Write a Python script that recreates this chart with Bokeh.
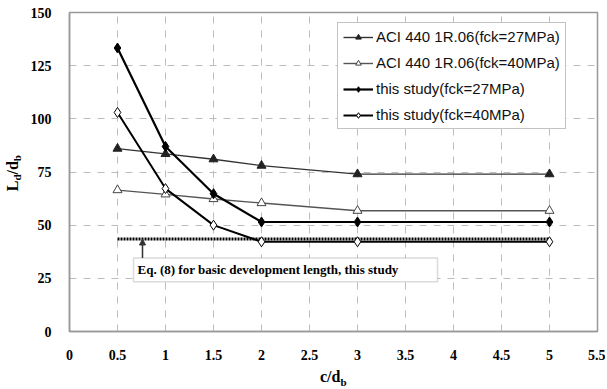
from bokeh.plotting import figure
from bokeh.layouts import row, column
from bokeh.models import (FixedTicker, Legend, LegendItem, Label, BoxAnnotation,
                          Arrow, NormalHead, Div)
from bokeh.embed import file_html
from bokeh.resources import INLINE

# ---- data ----
c_db = [0.5, 1, 1.5, 2, 3, 5]
aci_27 = [86, 83.5, 81, 78, 74, 74]
aci_40 = [66.5, 64.5, 62.3, 60.4, 56.8, 56.8]
study_27 = [133.3, 87, 64.8, 51.5, 51.5, 51.5]
study_40 = [103, 67.2, 50, 42.2, 42.2, 42.2]
eq8_x = [0.5, 5]
eq8_y = [43.5, 43.5]
x_ticks = [0, 0.5, 1, 1.5, 2, 2.5, 3, 3.5, 4, 4.5, 5, 5.5]
x_tick_labels = ["0", "0.5", "1", "1.5", "2", "2.5", "3", "3.5", "4", "4.5", "5", "5.5"]
y_ticks = [0, 25, 50, 75, 100, 125, 150]
y_tick_labels = ["0", "25", "50", "75", "100", "125", "150"]
names = ["ACI 440 1R.06(fck=27MPa)", "ACI 440 1R.06(fck=40MPa)",
         "this study(fck=27MPa)", "this study(fck=40MPa)"]
note = "Eq. (8) for basic development length, this study"

# ---- layout geometry (page pixels) ----
W, H = 605, 387
YT_W = 24            # width of the y-title strip
XT_H = 25            # height of the x-title strip
FL, FR, FT, FB = 69, 597, 12, 333
PW, PH = W - YT_W, H - XT_H

def px2x(px):
    return (px - FL) / (FR - FL) * 5.5
def px2y(py):
    return (FB - py) / (FB - FT) * 150

p = figure(width=PW, height=PH, x_range=(0, 5.5), y_range=(0, 150),
           output_backend="svg", toolbar_location=None,
           min_border_left=FL - YT_W, min_border_right=W - FR, min_border_top=FT,
           min_border_bottom=PH - FB, background_fill_color="white",
           border_fill_color="white", margin=0)
p.outline_line_color = "#999999"
p.outline_line_width = 1.5

serif = "Liberation Serif"
for ax, ticks, labs in ((p.xaxis[0], x_ticks, x_tick_labels), (p.yaxis[0], y_ticks, y_tick_labels)):
    ax.ticker = FixedTicker(ticks=ticks)
    ax.major_label_overrides = {t: l for t, l in zip(ticks, labs)}
    ax.major_label_text_font = serif
    ax.major_label_text_font_style = "bold"
    ax.major_label_text_font_size = "14px"
    ax.major_label_text_color = "black"
    ax.axis_line_color = "#999999"
    ax.axis_line_width = 1.5
    ax.major_tick_line_color = None
    ax.minor_tick_line_color = None
    ax.major_label_standoff = 12

p.xgrid.ticker = FixedTicker(ticks=x_ticks)
p.ygrid.ticker = FixedTicker(ticks=y_ticks)
for g in (p.xgrid[0], p.ygrid[0]):
    g.grid_line_color = "#bdbdbd"
    g.grid_line_dash = "7 7"
    g.grid_line_width = 1

# Eq. (8) dotted line
p.line(eq8_x, eq8_y, line_color="black", line_width=3, line_dash="2 1")

items = []
r1 = p.line(c_db, aci_27, line_color="#333333", line_width=1.4)
m1 = p.scatter(c_db, aci_27, marker="triangle", size=9, fill_color="#222222", line_color="#222222")
r2 = p.line(c_db, aci_40, line_color="#555555", line_width=1.4)
m2 = p.scatter(c_db, aci_40, marker="triangle", size=9, fill_color="white", line_color="#444444", line_width=1)
r3 = p.line(c_db, study_27, line_color="black", line_width=2.2)
m3 = p.scatter(c_db, study_27, marker="diamond", size=10, fill_color="black", line_color="black")
r4 = p.line(c_db, study_40, line_color="black", line_width=2.0)
m4 = p.scatter(c_db, study_40, marker="diamond", size=10, fill_color="white", line_color="black", line_width=1)

for name, rs in zip(names, [(r1, m1), (r2, m2), (r3, m3), (r4, m4)]):
    items.append(LegendItem(label=name, renderers=list(rs)))

legend = Legend(items=items, location=(268, 202), margin=0, padding=5,
                spacing=9, glyph_height=14, label_height=14, glyph_width=30,
                label_standoff=3,
                label_text_font="Liberation Sans", label_text_font_size="15px",
                label_text_color="#111111",
                border_line_color="#888888", border_line_width=1,
                background_fill_color="white", background_fill_alpha=1)
p.add_layout(legend, "center")

# annotation box
box = BoxAnnotation(left=px2x(133), right=px2x(437), top=px2y(259), bottom=px2y(283),
                    fill_color="white", fill_alpha=1, line_color="#888888", line_width=1.5)
p.add_layout(box)
p.add_layout(Label(x=px2x(137), y=px2y(271), text=note, text_font=serif,
                   text_font_style="bold", text_font_size="13px", text_baseline="middle",
                   text_color="black"))
p.add_layout(Arrow(end=NormalHead(size=6, fill_color="#333333", line_color="#333333"),
                   x_start=px2x(142), y_start=px2y(259), x_end=px2x(142), y_end=eq8_y[0],
                   line_color="#333333", line_width=1.5))

# axis titles (HTML, with subscripts)
font_css = "font-family:'Liberation Serif';font-weight:bold;font-size:16px;color:black;line-height:18px;"
y_title = Div(text=('<div style="' + font_css + 'writing-mode:vertical-rl;transform:rotate(180deg);'
                    'margin-top:155px;margin-left:4px;white-space:nowrap;">'
                    'L<sub style="font-size:11px">d</sub>/d<sub style="font-size:11px">b</sub></div>'),
              width=YT_W, height=PH, margin=0)
x_title = Div(text=('<div style="' + font_css + 'margin-left:320px;margin-top:6px;white-space:nowrap;">'
                    'c/d<sub style="font-size:11px">b</sub></div>'),
              width=W, height=XT_H, margin=0)

layout = column(row(y_title, p, spacing=0), x_title, spacing=0)
open("out.html", "w").write(file_html(layout, INLINE))
